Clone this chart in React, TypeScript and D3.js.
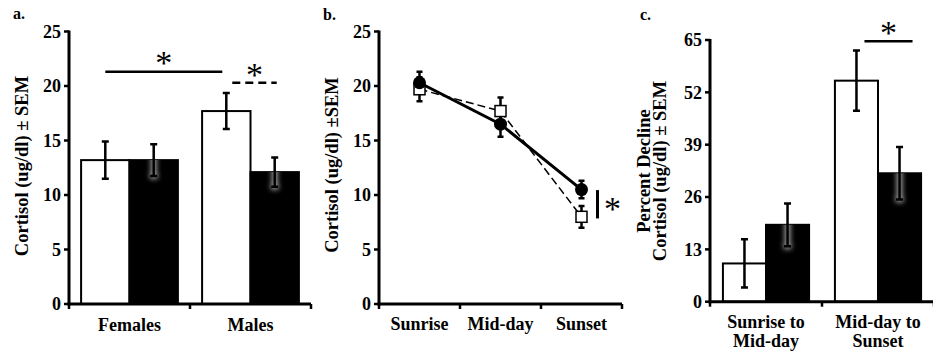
import React from "react";
import * as d3 from "d3";

const FONT = "'Liberation Serif', 'Times New Roman', serif";

// a. cortisol by sex (open = white bars, filled = black bars)
const SEXES = ["Females", "Males"];
const A_OPEN = [13.2, 17.7];
const A_OPEN_SEM = [1.7, 1.65];
const A_FILLED = [13.2, 12.1];
const A_FILLED_SEM = [1.45, 1.35];
const A_TICKS = [0, 5, 10, 15, 20, 25];

// b. cortisol across the day
const TIMES = ["Sunrise", "Mid-day", "Sunset"];
const B_OPEN = [19.7, 17.7, 8.0];
const B_OPEN_SEM = [1.1, 1.25, 1.0];
const B_FILLED = [20.3, 16.5, 10.5];
const B_FILLED_SEM = [1.0, 1.15, 0.8];
const B_TICKS = [0, 5, 10, 15, 20, 25];

// c. percent decline
const PERIODS = ["Sunrise to|Mid-day", "Mid-day to|Sunset"];
const C_OPEN = [9.5, 54.9];
const C_OPEN_SEM = [6.0, 7.5];
const C_FILLED = [19.1, 31.9];
const C_FILLED_SEM = [5.3, 6.5];
const C_TICKS = [0, 13, 26, 39, 52, 65];

const SERIES = ["open", "filled"];
const TITLE_SIZE = 18.5;

/** Vertical error bar with caps. */
function ErrorBar({ x, y0, y1, cap = 7, width = 2.5 }) {
  const h = cap / 2;
  return (
    <path
      d={`M${x - h},${y0}H${x + h}M${x},${y0}V${y1}M${x - h},${y1}H${x + h}`}
      stroke="#000"
      strokeWidth={width}
      fill="none"
    />
  );
}

/** Left axis with outward ticks and bold labels. */
function YAxis({ x, y, ticks }) {
  const top = y(ticks[ticks.length - 1]);
  const bottom = y(0);
  return (
    <g>
      <line x1={x} x2={x} y1={top - 1} y2={bottom + 1.5} stroke="#000" strokeWidth={3} />
      {ticks.map((t) => (
        <g key={t}>
          <line x1={x - 5} x2={x} y1={y(t)} y2={y(t)} stroke="#000" strokeWidth={2.5} />
          <text
            x={x - 8}
            y={y(t)}
            dy="0.35em"
            textAnchor="end"
            fontSize={18}
            fontWeight="bold"
          >
            {t}
          </text>
        </g>
      ))}
    </g>
  );
}

/** Bottom axis with ticks at band edges. */
function XAxis({ x, y0 }) {
  const [r0, r1] = x.range();
  const edges = [r0, ...x.domain().map((d) => x(d) + x.bandwidth())];
  return (
    <g>
      <line x1={r0 - 1.5} x2={r1} y1={y0} y2={y0} stroke="#000" strokeWidth={3} />
      {edges.map((e, i) => (
        <line key={i} x1={e} x2={e} y1={y0} y2={y0 + 5} stroke="#000" strokeWidth={2.5} />
      ))}
    </g>
  );
}

/** Asterisk centred on (x, y). */
function Star({ x, y }) {
  const fs = 34;
  return (
    <text x={x} y={y + fs * 0.47} textAnchor="middle" fontSize={fs}>
      *
    </text>
  );
}

/** Grouped open/filled bars with SEM; filled bars get a soft grey glow around the bar. */
function Bars({ x, sub, y, open, openSem, filled, filledSem, id }) {
  return (
    <g>
      {x.domain().map((g, i) => {
        const vals = [open[i], filled[i]];
        const sems = [openSem[i], filledSem[i]];
        return SERIES.map((s, j) => {
          const bx = x(g) + sub(s);
          const cx = bx + sub.bandwidth() / 2;
          const top = y(vals[j]);
          const clip = `${id}-${i}-${j}`;
          return (
            <g key={clip}>
              <rect
                x={bx}
                y={top}
                width={sub.bandwidth()}
                height={y(0) - top}
                fill={s === "open" ? "#fff" : "#000"}
                stroke="#000"
                strokeWidth={2}
              />
              {s === "filled" && (
                <g>
                  <clipPath id={clip}>
                    <rect x={bx} y={top} width={sub.bandwidth()} height={y(0) - top} />
                  </clipPath>
                  <g clipPath={`url(#${clip})`}>
                    <path
                      d={`M${cx},${y(vals[j] + sems[j])}V${y(vals[j] - sems[j])}M${cx - 4},${y(vals[j] - sems[j])}H${cx + 4}`}
                      stroke="#9a9a9a"
                      strokeWidth={6}
                      filter="url(#glow)"
                    />
                  </g>
                </g>
              )}
              <ErrorBar x={cx} y0={y(vals[j] + sems[j])} y1={y(vals[j] - sems[j])} />
            </g>
          );
        });
      })}
    </g>
  );
}

function PanelA() {
  const y = d3.scaleLinear().domain([0, 25]).range([304, 31.5]);
  const x = d3.scaleBand().domain(SEXES).range([69, 311]);
  const sub = d3.scaleBand().domain(SERIES).range([0, x.bandwidth()]).paddingOuter(0.25);
  const ctr = (g, s) => x(g) + sub(s) + sub.bandwidth() / 2;
  const solid = [ctr("Females", "open"), ctr("Males", "open") - 4];
  const dashed = [ctr("Males", "open") + 6, ctr("Males", "filled") + 2];
  return (
    <g>
      <text x={13} y={19} fontSize={16} fontWeight="bold">a.</text>
      <text transform="translate(28,166) rotate(-90)" textAnchor="middle" fontSize={TITLE_SIZE} fontWeight="bold">
        Cortisol (ug/dl) ± SEM
      </text>
      <Bars x={x} sub={sub} y={y} open={A_OPEN} openSem={A_OPEN_SEM} filled={A_FILLED} filledSem={A_FILLED_SEM} id="a" />
      <YAxis x={69} y={y} ticks={A_TICKS} />
      <XAxis x={x} y0={y(0)} />
      {SEXES.map((s) => (
        <text key={s} x={x(s) + x.bandwidth() / 2} y={331} textAnchor="middle" fontSize={18} fontWeight="bold">
          {s}
        </text>
      ))}
      <line x1={solid[0]} x2={solid[1]} y1={y(21.3)} y2={y(21.3)} stroke="#000" strokeWidth={2.5} />
      <Star x={(solid[0] + solid[1]) / 2} y={y(22.6)} />
      <line x1={dashed[0]} x2={dashed[1]} y1={y(20.3)} y2={y(20.3)} stroke="#000" strokeWidth={2.5} strokeDasharray="8,5" />
      <Star x={(dashed[0] + dashed[1]) / 2} y={y(21.5)} />
    </g>
  );
}

function PanelB() {
  const y = d3.scaleLinear().domain([0, 25]).range([304, 31.5]);
  const x = d3.scaleBand().domain(TIMES).range([379, 622]);
  const cx = (t) => x(t) + x.bandwidth() / 2;
  const line = d3
    .line()
    .x((d) => d[0])
    .y((d) => d[1]);
  const openPts = TIMES.map((t, i) => [cx(t), y(B_OPEN[i])]);
  const filledPts = TIMES.map((t, i) => [cx(t), y(B_FILLED[i])]);
  const sx = cx("Sunset") + 16;
  return (
    <g>
      <text x={323} y={20} fontSize={16} fontWeight="bold">b.</text>
      <text transform="translate(338,165) rotate(-90)" textAnchor="middle" fontSize={TITLE_SIZE} fontWeight="bold">
        Cortisol (ug/dl) ±SEM
      </text>
      {TIMES.map((t, i) => (
        <g key={t}>
          <ErrorBar x={cx(t)} y0={y(B_OPEN[i] + B_OPEN_SEM[i])} y1={y(B_OPEN[i] - B_OPEN_SEM[i])} cap={6} />
          <ErrorBar x={cx(t)} y0={y(B_FILLED[i] + B_FILLED_SEM[i])} y1={y(B_FILLED[i] - B_FILLED_SEM[i])} cap={6} />
        </g>
      ))}
      <path d={line(openPts)} fill="none" stroke="#000" strokeWidth={1.5} strokeDasharray="8,4" />
      {openPts.map((p, i) => (
        <rect key={i} x={p[0] - 5.5} y={p[1] - 5.5} width={11} height={11} fill="#fff" stroke="#000" strokeWidth={1.5} />
      ))}
      <path d={line(filledPts)} fill="none" stroke="#000" strokeWidth={3} />
      {filledPts.map((p, i) => (
        <circle key={i} cx={p[0]} cy={p[1]} r={6.5} fill="#000" />
      ))}
      <YAxis x={379} y={y} ticks={B_TICKS} />
      <XAxis x={x} y0={y(0)} />
      {TIMES.map((t) => (
        <text key={t} x={cx(t)} y={330} textAnchor="middle" fontSize={18} fontWeight="bold">
          {t}
        </text>
      ))}
      <line x1={sx} x2={sx} y1={y(10.45)} y2={y(7.85)} stroke="#000" strokeWidth={3} />
      <Star x={sx + 15} y={y(9.2)} />
    </g>
  );
}

function PanelC() {
  const y = d3.scaleLinear().domain([0, 65]).range([301.7, 40]);
  const x = d3.scaleBand().domain(PERIODS).range([710, 934]);
  const sub = d3.scaleBand().domain(SERIES).range([0, x.bandwidth()]).paddingOuter(0.3);
  const ctr = (g, s) => x(g) + sub(s) + sub.bandwidth() / 2;
  const sig = [ctr(PERIODS[1], "open") + 8, ctr(PERIODS[1], "filled") + 13];
  const mid = 171;
  return (
    <g>
      <text x={640} y={20} fontSize={16} fontWeight="bold">c.</text>
      <text transform={`translate(650,${mid}) rotate(-90)`} textAnchor="middle" fontSize={TITLE_SIZE} fontWeight="bold">
        Percent Decline
      </text>
      <text transform={`translate(666,${mid}) rotate(-90)`} textAnchor="middle" fontSize={TITLE_SIZE} fontWeight="bold">
        Cortisol (ug/dl) ± SEM
      </text>
      <Bars x={x} sub={sub} y={y} open={C_OPEN} openSem={C_OPEN_SEM} filled={C_FILLED} filledSem={C_FILLED_SEM} id="c" />
      <YAxis x={710} y={y} ticks={C_TICKS} />
      <XAxis x={x} y0={y(0)} />
      {PERIODS.map((p) =>
        p.split("|").map((ln, k) => (
          <text key={p + k} x={x(p) + x.bandwidth() / 2} y={328 + k * 19} textAnchor="middle" fontSize={18} fontWeight="bold">
            {ln}
          </text>
        ))
      )}
      <line x1={sig[0]} x2={sig[1]} y1={y(64.7)} y2={y(64.7)} stroke="#000" strokeWidth={2.5} />
      <Star x={(sig[0] + sig[1]) / 2} y={y(68)} />
    </g>
  );
}

export default function App() {
  return (
    <svg
      width={933}
      height={358}
      style={{ position: "absolute", left: 0, top: 0, background: "#fff" }}
      fontFamily={FONT}
    >
      <defs>
        <filter id="glow" x="-200%" y="-50%" width="500%" height="200%">
          <feGaussianBlur stdDeviation={2.5} />
        </filter>
      </defs>
      <rect width={933} height={358} fill="#fff" />
      <PanelA />
      <PanelB />
      <PanelC />
    </svg>
  );
}
